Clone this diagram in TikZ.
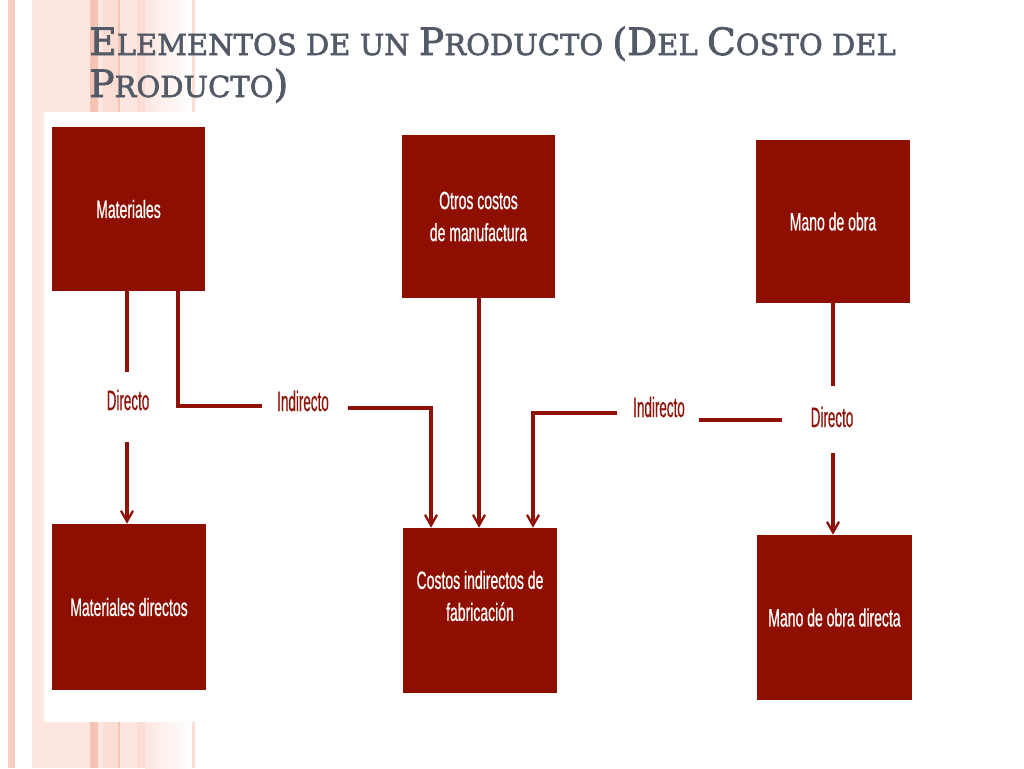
\documentclass[tikz,border=0pt]{standalone}
\usepackage{fontspec}
\newfontfamily\boxfont[FakeStretch=0.56,FakeBold=0.6]{Liberation Sans}
\newfontfamily\labfont[FakeStretch=0.48,FakeBold=0.4]{Liberation Sans}
\newfontfamily\titlefont[FakeBold=2]{DejaVu Serif}
\newcommand\tbig[1]{{\fontsize{28.2}{31.5}\selectfont #1}}
\usetikzlibrary{arrows.meta}
\definecolor{boxred}{HTML}{8E0E00}
\definecolor{linered}{HTML}{8E1208}
\definecolor{titlegray}{HTML}{525A68}
\definecolor{stripeA}{HTML}{F9CEC2}
\definecolor{stripeL}{HTML}{FDE7E0}
\definecolor{stripeM}{HTML}{FBDDD3}
\definecolor{stripeS}{HTML}{F8C3B3}
\begin{document}
\begin{tikzpicture}[x=0.75pt,y=-0.75pt,
  box/.style={fill=boxred, draw=none, text=white, align=center, inner sep=0pt,
    font=\boxfont\fontsize{18.75}{24}\selectfont},
  conn/.style={draw=linered, line width=2.6pt},
  arr/.style={-{Straight Barb[length=8pt,width=9pt,line width=1.7pt]}},
  lab/.style={text=linered, inner sep=0pt, font=\labfont\fontsize{21}{24}\selectfont}]
\useasboundingbox (0,0) rectangle (1024,768);
\fill[white] (0,0) rectangle (1024,768);
% decorative stripes
\fill[stripeA] (8,0) rectangle (15,768);
\fill[stripeL] (32,0) rectangle (90,768);
\fill[stripeS] (90,0) rectangle (98,768);
\fill[stripeL] (98,0) rectangle (103,768);
\fill[stripeM] (103,0) rectangle (118,768);
\fill[stripeS] (118,0) rectangle (120,768);
\fill[stripeL] (120,0) rectangle (137,768);
\fill[stripeM] (137,0) rectangle (145,768);
\shade[left color=stripeL, right color=white] (145,0) rectangle (192,768);
\fill[stripeM] (192,0) rectangle (195,768);
% white picture area
\fill[white] (44,112) rectangle (1024,722);
% title
\node[anchor=base west, text=titlegray, align=left, inner sep=0pt,
  font=\titlefont\fontsize{21.8}{31.5}\selectfont] (title) at (89,97)
  {\tbig{E}LEMENTOS DE UN \tbig{P}RODUCTO \tbig{(D}EL \tbig{C}OSTO DEL\\\tbig{P}RODUCTO\tbig{)}};
% boxes
\node[box, minimum width=114.75pt, minimum height=123pt] (mat) at (128.5,209) {Materiales};
\node[box, minimum width=114.75pt, minimum height=122.25pt] (otros) at (478.5,216.5) {Otros costos\\de manufactura};
\node[box, minimum width=115.5pt, minimum height=122.25pt] (mano) at (833,221.5) {Mano de obra};
\node[box, minimum width=115.5pt, minimum height=124.5pt] (matd) at (129,607) {Materiales directos};
\node[box, minimum width=115.5pt, minimum height=123.75pt, text depth=22pt] (cif) at (480,610.5) {Costos indirectos de\\fabricación};
\node[box, minimum width=116.25pt, minimum height=123.75pt] (manod) at (834.5,617.5) {Mano de obra directa};
% labels
\node[lab] (dir1) at (128,400) {Directo};
\node[lab] (ind1) at (303,401) {Indirecto};
\node[lab] (ind2) at (659,407) {Indirecto};
\node[lab] (dir2) at (832,417) {Directo};
% connector points
\coordinate (d1a) at (127,372);
\coordinate (d1b) at (127,442);
\coordinate (i1a) at (178,406);
\coordinate (i1b) at (262,406);
\coordinate (i1c) at (348,408);
\coordinate (i1d) at (431,408);
\coordinate (o1) at (479,400);
\coordinate (d2a) at (833,386);
\coordinate (d2b) at (833,453);
\coordinate (i2a) at (782,420);
\coordinate (i2b) at (699,420);
\coordinate (i2c) at (617,413);
\coordinate (i2d) at (533,413);
% connectors
\draw[conn] (d1a |- mat.south) -- (d1a);
\draw[conn,arr] (d1b) -- (d1b |- matd.north);
\draw[conn] (i1a |- mat.south) -- (i1a) -- (i1b);
\draw[conn,arr] (i1c) -- (i1d) -- (i1d |- cif.north);
\draw[conn,arr] (o1 |- otros.south) -- (o1 |- cif.north);
\draw[conn] (d2a |- mano.south) -- (d2a);
\draw[conn,arr] (d2b) -- (d2b |- manod.north);
\draw[conn] (i2a) -- (i2b);
\draw[conn,arr] (i2c) -- (i2d) -- (i2d |- cif.north);
\end{tikzpicture}
\end{document}
